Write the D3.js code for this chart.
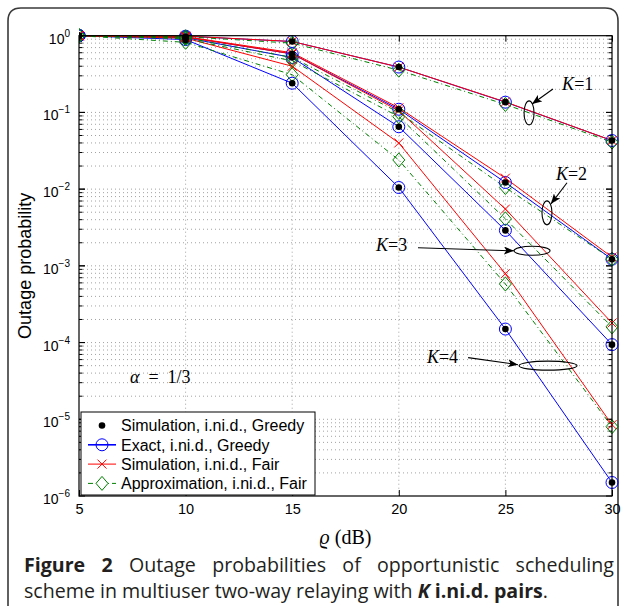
<!DOCTYPE html>
<html>
<head>
<meta charset="utf-8">
<script src="https://cdn.jsdelivr.net/npm/d3@7"></script>
<style>
  body { margin: 0; background: #fff; }
  svg { display: block; }
</style>
</head>
<body>
<div id="container"></div>
<script>
// x values (dB) and tick labels
const snr = [5, 10, 15, 20, 25, 30];
const xTicks = [5, 10, 15, 20, 25, 30];
const yExponents = [0, -1, -2, -3, -4, -5, -6];
const pairs = [1, 2, 3, 4];

// outage probability, one row per K
const simGreedy = [
  [1, 0.97, 0.84, 0.39, 0.136, 0.043],
  [1, 0.95, 0.58, 0.11, 0.0122, 0.00122],
  [1, 0.93, 0.52, 0.065, 0.0029, 0.000094],
  [1, 0.88, 0.24, 0.0105, 0.00015, 0.0000015]
];
const exactGreedy = [
  [1, 0.985, 0.84, 0.39, 0.136, 0.043],
  [1, 0.96, 0.58, 0.11, 0.0122, 0.00122],
  [1, 0.94, 0.52, 0.065, 0.0029, 0.000094],
  [1, 0.89, 0.24, 0.0105, 0.00015, 0.0000015]
];
const simFair = [
  [1, 0.99, 0.84, 0.39, 0.137, 0.043],
  [1, 0.97, 0.60, 0.115, 0.0139, 0.0013],
  [1, 0.96, 0.58, 0.105, 0.0055, 0.00018],
  [1, 0.93, 0.40, 0.040, 0.00079, 0.0000085]
];
const approxFair = [
  [1, 0.97, 0.80, 0.355, 0.127, 0.041],
  [1, 0.94, 0.52, 0.10, 0.0105, 0.00122],
  [1, 0.91, 0.47, 0.088, 0.0041, 0.00016],
  [1, 0.82, 0.31, 0.024, 0.00058, 0.0000080]
];

const legendLabels = [
  'Simulation, i.ni.d., Greedy',
  'Exact, i.ni.d., Greedy',
  'Simulation, i.ni.d., Fair',
  'Approximation, i.ni.d., Fair'
];

// K=... callouts, in data units: ellipse centre, label anchor, arrow from/to
const calloutEllipse = [[26.11, 0.0986], [26.95, 0.00491], [26.25, 0.00157], [27.0, 0.00005]];
const calloutLabel = [[27.66, 0.196], [27.37, 0.0132], [18.93, 0.00157], [21.32, 0.0000547]];
const calloutFrom = [[27.23, 0.202], [27.89, 0.0121], [20.9, 0.00172], [23.25, 0.0000636]];
const calloutTo = [[26.25, 0.129], [27.14, 0.00644], [25.4, 0.00157], [25.59, 0.0000515]];
const calloutRadii = [[5, 12], [5, 12], [18, 4.5], [29, 4.5]];

const W = 625, H = 606;
const x = d3.scaleLinear().domain([5, 30]).range([79, 612]);
const y = d3.scaleLog().domain([1e-6, 1]).range([496, 35.7]);

const svg = d3.select('#container').append('svg')
  .attr('width', W)
  .attr('height', H);

const defs = svg.append('defs');
defs.append('clipPath').attr('id', 'plot-clip')
  .append('rect')
  .attr('x', x(5)).attr('y', y(1) - 8)
  .attr('width', x(30) - x(5) + 8).attr('height', y(1e-6) - y(1) + 8);
defs.append('marker')
  .attr('id', 'arrow')
  .attr('markerUnits', 'userSpaceOnUse')
  .attr('markerWidth', 11).attr('markerHeight', 8)
  .attr('refX', 10).attr('refY', 4)
  .attr('orient', 'auto')
  .append('path')
  .attr('d', 'M0,0L10,4L0,8L2.5,4Z')
  .attr('fill', '#000');

// figure frame
svg.append('path')
  .attr('d', 'M8,612V21Q8,8 21,8H605Q618,8 618,21V612')
  .attr('fill', 'none')
  .attr('stroke', '#3a3a3a')
  .attr('stroke-width', 1.6);

// grid
const yMinor = [];
for (let e = -6; e < 0; e++) {
  for (let m = 1; m < 10; m++) {
    if (e === -6 && m === 1) continue;
    yMinor.push(m * Math.pow(10, e));
  }
}
const grid = svg.append('g').attr('class', 'grid')
  .attr('stroke', '#8a8a8a')
  .attr('stroke-width', 0.8)
  .attr('stroke-dasharray', '1,3');
grid.selectAll('line.h').data(yMinor).enter().append('line')
  .attr('class', 'h')
  .attr('x1', x(5)).attr('x2', x(30))
  .attr('y1', d => y(d)).attr('y2', d => y(d));
grid.selectAll('line.v').data(xTicks.slice(1, -1)).enter().append('line')
  .attr('class', 'v')
  .attr('x1', d => x(d)).attr('x2', d => x(d))
  .attr('y1', y(1)).attr('y2', y(1e-6));

// ticks
const ticks = svg.append('g').attr('stroke', '#000').attr('stroke-width', 1);
const yMajor = yExponents.map(e => Math.pow(10, e));
ticks.selectAll('line.yl').data(yMinor.concat(yMajor)).enter().append('line')
  .attr('x1', x(5)).attr('x2', d => x(5) + (yMajor.includes(d) ? 6 : 3.5))
  .attr('y1', d => y(d)).attr('y2', d => y(d));
ticks.selectAll('line.yr').data(yMinor.concat(yMajor)).enter().append('line')
  .attr('x1', x(30)).attr('x2', d => x(30) - (yMajor.includes(d) ? 6 : 3.5))
  .attr('y1', d => y(d)).attr('y2', d => y(d));

svg.append('g')
  .attr('transform', `translate(0, ${y(1e-6)})`)
  .call(d3.axisBottom(x).tickValues(xTicks).tickSize(-6).tickSizeOuter(0).tickPadding(8))
  .call(g => g.select('.domain').remove())
  .call(g => g.selectAll('text')
    .attr('font-family', 'Liberation Sans, Arial, sans-serif')
    .attr('font-size', 14.5)
    .attr('fill', '#000'));
svg.append('g')
  .attr('transform', `translate(0, ${y(1)})`)
  .call(d3.axisTop(x).tickValues(xTicks).tickSize(-6).tickSizeOuter(0).tickFormat(''))
  .call(g => g.select('.domain').remove());

// y labels 10^n
const yLabels = svg.append('g')
  .attr('font-family', 'Liberation Sans, Arial, sans-serif')
  .attr('fill', '#000')
  .attr('text-anchor', 'end');
yExponents.forEach(e => {
  const t = yLabels.append('text')
    .attr('x', x(5) - 9)
    .attr('y', y(Math.pow(10, e)) + 8)
    .attr('font-size', 14)
    .text('10');
  t.append('tspan')
    .attr('dy', -7)
    .attr('font-size', 10)
    .text(e === 0 ? '0' : '\u2212' + (-e));
});

// series
const line = d3.line().x((d, i) => x(snr[i])).y(d => y(d));
const plot = svg.append('g').attr('clip-path', 'url(#plot-clip)');

plot.selectAll('path.exact').data(exactGreedy).enter().append('path')
  .attr('d', line).attr('fill', 'none')
  .attr('stroke', '#0000ff').attr('stroke-width', 1);
plot.selectAll('path.fair').data(simFair).enter().append('path')
  .attr('d', line).attr('fill', 'none')
  .attr('stroke', '#ff0000').attr('stroke-width', 1);
plot.selectAll('path.approx').data(approxFair).enter().append('path')
  .attr('d', line).attr('fill', 'none')
  .attr('stroke', '#008000').attr('stroke-width', 1)
  .attr('stroke-dasharray', '5,3,1,3');

const diamond = 'M0,-7L6,0L0,7L-6,0Z';
const cross = 'M-4.5,-4.5L4.5,4.5M-4.5,4.5L4.5,-4.5';

function pointsOf(rows) {
  const pts = [];
  rows.forEach((row, k) => row.forEach((v, i) => pts.push({ k, x: snr[i], v })));
  return pts;
}

plot.selectAll('circle.exact').data(pointsOf(exactGreedy)).enter().append('circle')
  .attr('cx', d => x(d.x)).attr('cy', d => y(d.v)).attr('r', 6)
  .attr('fill', 'none').attr('stroke', '#0000ff').attr('stroke-width', 1);
plot.selectAll('path.dia').data(pointsOf(approxFair)).enter().append('path')
  .attr('transform', d => `translate(${x(d.x)}, ${y(d.v)})`)
  .attr('d', diamond)
  .attr('fill', 'none').attr('stroke', '#008000').attr('stroke-width', 1);
plot.selectAll('path.cross').data(pointsOf(simFair)).enter().append('path')
  .attr('transform', d => `translate(${x(d.x)}, ${y(d.v)})`)
  .attr('d', cross)
  .attr('fill', 'none').attr('stroke', '#ff0000').attr('stroke-width', 1);
plot.selectAll('circle.dot').data(pointsOf(simGreedy)).enter().append('circle')
  .attr('cx', d => x(d.x)).attr('cy', d => y(d.v)).attr('r', 3.3)
  .attr('fill', '#000');

// axes box
svg.append('rect')
  .attr('x', x(5)).attr('y', y(1))
  .attr('width', x(30) - x(5)).attr('height', y(1e-6) - y(1))
  .attr('fill', 'none').attr('stroke', '#000').attr('stroke-width', 1.2);

// callouts
const callouts = svg.append('g');
pairs.forEach((K, i) => {
  callouts.append('ellipse')
    .attr('cx', x(calloutEllipse[i][0])).attr('cy', y(calloutEllipse[i][1]))
    .attr('rx', calloutRadii[i][0]).attr('ry', calloutRadii[i][1])
    .attr('fill', 'none').attr('stroke', '#000').attr('stroke-width', 1.1);
  callouts.append('line')
    .attr('x1', x(calloutFrom[i][0])).attr('y1', y(calloutFrom[i][1]))
    .attr('x2', x(calloutTo[i][0])).attr('y2', y(calloutTo[i][1]))
    .attr('stroke', '#000').attr('stroke-width', 1.1)
    .attr('marker-end', 'url(#arrow)');
  const t = callouts.append('text')
    .attr('x', x(calloutLabel[i][0])).attr('y', y(calloutLabel[i][1]))
    .attr('font-family', 'Liberation Serif, Times New Roman, serif')
    .attr('font-size', 18)
    .attr('fill', '#000');
  t.append('tspan').attr('font-style', 'italic').text('K');
  t.append('tspan').text('=' + K);
});

// alpha note
const alpha = svg.append('text')
  .attr('x', x(7.39)).attr('y', y(0.00003))
  .attr('font-family', 'Liberation Serif, Times New Roman, serif')
  .attr('font-size', 18)
  .attr('fill', '#000')
  .attr('xml:space', 'preserve');
alpha.append('tspan').attr('font-style', 'italic').text('\u03b1');
alpha.append('tspan').text('  =  1/3');

// legend
const lg = svg.append('g').attr('transform', `translate(${x(5) + 2}, 412)`);
lg.append('rect')
  .attr('width', 234).attr('height', y(1e-6) - 1 - 412)
  .attr('fill', '#fff').attr('stroke', '#000').attr('stroke-width', 1);
const rows = lg.selectAll('g.row').data(legendLabels).enter().append('g')
  .attr('transform', (d, i) => `translate(0, ${13.5 + i * 19.3})`);
rows.append('text')
  .attr('x', 40).attr('dy', '0.36em')
  .attr('font-family', 'Liberation Sans, Arial, sans-serif')
  .attr('font-size', 16)
  .attr('fill', '#000')
  .text(d => d);
rows.filter((d, i) => i === 0).append('circle')
  .attr('cx', 21).attr('r', 3.3).attr('fill', '#000');
const r1 = rows.filter((d, i) => i === 1);
r1.append('line').attr('x1', 7).attr('x2', 35).attr('stroke', '#0000ff').attr('stroke-width', 1.6);
r1.append('circle').attr('cx', 21).attr('r', 6).attr('fill', 'none').attr('stroke', '#0000ff');
const r2 = rows.filter((d, i) => i === 2);
r2.append('line').attr('x1', 7).attr('x2', 35).attr('stroke', '#ff0000');
r2.append('path').attr('transform', 'translate(21,0)').attr('d', cross).attr('stroke', '#ff0000');
const r3 = rows.filter((d, i) => i === 3);
r3.append('line').attr('x1', 7).attr('x2', 35).attr('stroke', '#008000').attr('stroke-dasharray', '5,3,1,3');
r3.append('path').attr('transform', 'translate(21,0)').attr('d', diamond).attr('fill', '#fff').attr('stroke', '#008000');

// axis titles
svg.append('text')
  .attr('transform', `translate(31, ${(y(1) + y(1e-6)) / 2}) rotate(-90)`)
  .attr('text-anchor', 'middle')
  .attr('font-family', 'Liberation Sans, Arial, sans-serif')
  .attr('font-size', 18)
  .attr('fill', '#000')
  .text('Outage probability');
const xt = svg.append('text')
  .attr('x', (x(5) + x(30)) / 2).attr('y', 544)
  .attr('text-anchor', 'middle')
  .attr('font-family', 'Liberation Serif, Times New Roman, serif')
  .attr('font-size', 20)
  .attr('fill', '#000');
xt.append('tspan').attr('font-style', 'italic').text('\u03f1');
xt.append('tspan').text(' (dB)');

// caption: second line sets the size, first line is justified to the frame
const capFont = 'Open Sans, Noto Sans, sans-serif';
const cap2 = svg.append('text')
  .attr('x', 24).attr('y', 598)
  .attr('font-family', capFont).attr('font-size', 18).attr('fill', '#231f20');
cap2.append('tspan').text('scheme in multiuser two-way relaying with ');
cap2.append('tspan').attr('font-weight', 'bold').attr('font-style', 'italic').text('K');
cap2.append('tspan').attr('font-weight', 'bold').text(' i.ni.d. pairs');
cap2.append('tspan').text('.');
const capSize = 18 * 524 / cap2.node().getComputedTextLength();
cap2.attr('font-size', capSize);

const cap1 = svg.append('text')
  .attr('x', 24).attr('y', 572)
  .attr('font-family', capFont).attr('font-size', capSize).attr('fill', '#231f20');
cap1.append('tspan').attr('font-weight', 'bold').text('Figure 2');
cap1.append('tspan').text(' Outage probabilities of opportunistic scheduling');
const used = cap1.node().getComputedTextLength();
cap1.attr('word-spacing', Math.max(0, (614 - 24 - used) / 6));
</script>
</body>
</html>
